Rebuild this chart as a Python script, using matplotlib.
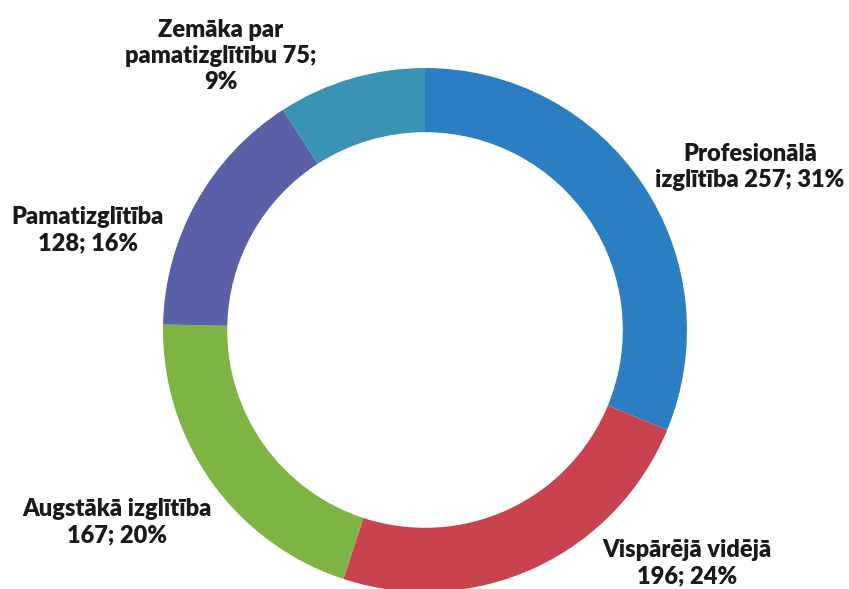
import matplotlib
matplotlib.use("Agg")
import matplotlib.pyplot as plt

categories = ["Profesionālā\nizglītība", "Vispārējā vidējā\n", "Augstākā izglītība\n",
              "Pamatizglītība\n", "Zemāka par\npamatizglītību"]
values = [257, 196, 167, 128, 75]
percents = [31, 24, 20, 16, 9]
colors = ["#2B7EC1", "#C8434D", "#7DB443", "#5A60A8", "#3A93B3"]

# label text layout (figure pixel centres) -- layout only
label_pos = [(750, 167), (687, 563), (117, 522), (88, 230), (221, 56)]

W, H = 849, 589
cx, cy, R = 425, 330, 262

fig = plt.figure(figsize=(W / 100, H / 100), dpi=100)
ax = fig.add_axes([0, 0, 1, 1])
ax.pie(values, colors=colors, startangle=90, counterclock=False, radius=1.0,
       wedgeprops=dict(width=0.245, edgecolor="none"))
ax.set_xlim(-cx / R, (W - cx) / R)
ax.set_ylim(-(H - cy) / R, cy / R)
ax.set_aspect("equal")
ax.axis("off")

for cat, v, p, (px, py) in zip(categories, values, percents, label_pos):
    if cat.endswith("\n"):
        txt = f"{cat}{v}; {p}%"
    elif cat.startswith("Zemāka"):
        txt = f"{cat} {v};\n{p}%"
    else:
        txt = f"{cat} {v}; {p}%"
    fig.text(px / W, 1 - py / H, txt, ha="center", va="center", fontsize=17,
             fontweight="heavy", family=["Lato", "DejaVu Sans"], color="#1a1a1a",
             linespacing=1.22)

fig.savefig("out.png", dpi=100)
